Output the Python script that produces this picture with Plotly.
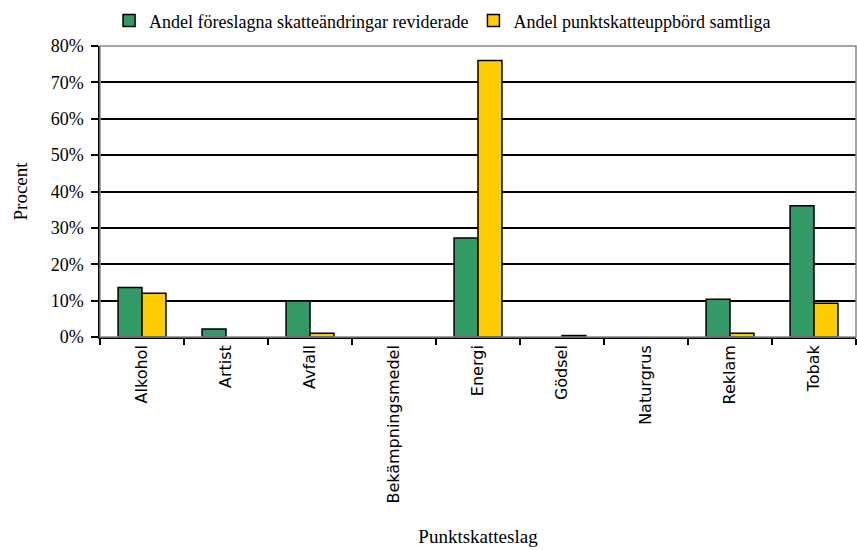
import plotly.graph_objects as go

categories = ["Alkohol", "Artist", "Avfall", "Bekämpningsmedel", "Energi",
              "Gödsel", "Naturgrus", "Reklam", "Tobak"]
reviderade = [0.136, 0.022, 0.099, 0.0, 0.272, 0.0, 0.0, 0.104, 0.361]
samtliga = [0.120, 0.0, 0.010, 0.0, 0.760, 0.004, 0.0, 0.010, 0.093]
series_names = ["Andel föreslagna skatteändringar reviderade",
                "Andel punktskatteuppbörd samtliga"]
y_ticks = [0, 0.1, 0.2, 0.3, 0.4, 0.5, 0.6, 0.7, 0.8]

serif = "Liberation Serif"
sans = "DejaVu Sans"


def outline_widths(vals):
    return [1.5 if v > 0 else 0 for v in vals]


fig = go.Figure()
fig.add_trace(go.Bar(x=categories, y=reviderade, name=series_names[0],
                     marker=dict(color="#339966",
                                 line=dict(color="black", width=outline_widths(reviderade)))))
fig.add_trace(go.Bar(x=categories, y=samtliga, name=series_names[1],
                     marker=dict(color="#FFCC00",
                                 line=dict(color="black", width=outline_widths(samtliga)))))

fig.add_shape(type="rect", xref="x domain", yref="y domain", x0=0, x1=1, y0=0, y1=1,
              line=dict(color="#888888", width=1.5), layer="above")

fig.update_layout(
    width=857, height=550,
    margin=dict(l=100, r=1, t=46, b=213, autoexpand=False),
    paper_bgcolor="white", plot_bgcolor="white",
    barmode="group", bargap=0.43, bargroupgap=0,
    font=dict(family=serif, size=18, color="black"),
    legend=dict(orientation="h", x=0.012, xanchor="left", y=1.15, yanchor="top",
                font=dict(family=serif, size=18), itemwidth=30, traceorder="normal",
                tracegroupgap=0, itemclick=False),
    xaxis=dict(
        type="category", tickson="boundaries", ticks="outside", ticklen=6,
        tickcolor="black", tickwidth=1.5, showline=True, linecolor="black", linewidth=1.5,
        tickangle=-90, tickfont=dict(family=sans, size=16, color="black"),
        title=dict(text="Punktskatteslag", font=dict(family=serif, size=19), standoff=27),
        automargin=False, showgrid=False,
    ),
    yaxis=dict(
        range=[0, 0.8], tickvals=y_ticks, tickformat=".0%", ticks="outside", ticklen=7,
        tickcolor="black", tickwidth=1.5, showline=True, linecolor="black", linewidth=1.5,
        showgrid=True, gridcolor="black", gridwidth=1.5, zeroline=False,
        tickfont=dict(family=serif, size=18, color="black"), ticklabelstandoff=4,
        title=dict(text="Procent", font=dict(family=serif, size=19), standoff=18),
        automargin=False,
    ),
)

fig.write_html("out.html")
